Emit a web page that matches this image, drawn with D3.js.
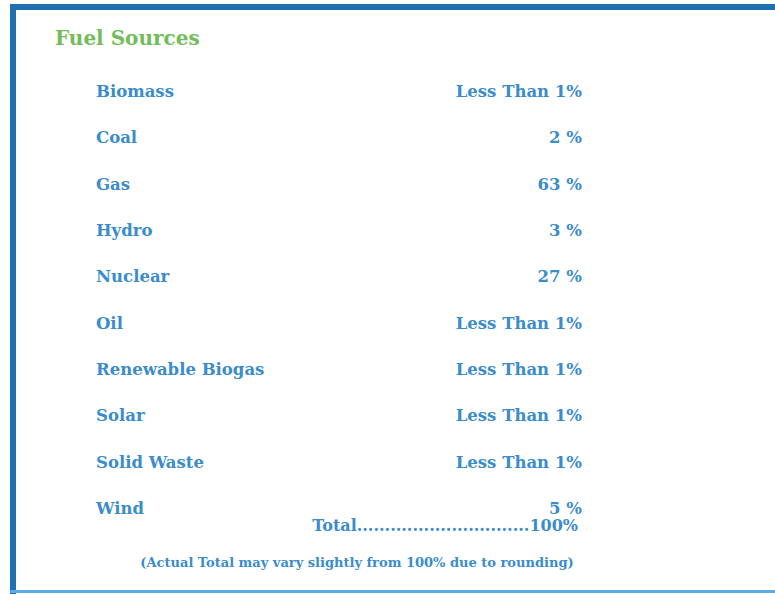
<!DOCTYPE html>
<html>
<head>
<meta charset="utf-8">
<script src="https://cdn.jsdelivr.net/npm/d3@7"></script>
<style>
  html, body { margin: 0; padding: 0; background: #fff; }
  svg text { font-family: "DejaVu Serif", "Liberation Serif", serif; font-weight: bold; }
</style>
</head>
<body>
<div id="chart"></div>
<script>
// --- Data ---
const title = "Fuel Sources";
const fuels = ["Biomass", "Coal", "Gas", "Hydro", "Nuclear", "Oil",
  "Renewable Biogas", "Solar", "Solid Waste", "Wind"];
const shares = ["Less Than 1%", "2 %", "63 %", "3 %", "27 %", "Less Than 1%",
  "Less Than 1%", "Less Than 1%", "Less Than 1%", "5 %"];
const totalLabel = "Total...............................100%";
const footnote = "(Actual Total may vary slightly from 100% due to rounding)";

// --- Setup ---
const width = 775, height = 594;
const blue = "#3a8ccb", green = "#72bd5a";

const svg = d3.select("#chart").append("svg")
  .attr("width", width)
  .attr("height", height);

svg.append("rect").attr("width", width).attr("height", height).attr("fill", "#fff");

// frame: thick dark top and left, thin light bottom
svg.append("rect").attr("x", 10).attr("y", 4).attr("width", width - 10).attr("height", 6).attr("fill", "#1f70b0");
svg.append("rect").attr("x", 10).attr("y", 4).attr("width", 6).attr("height", height - 4).attr("fill", "#1f70b0");
svg.append("rect").attr("x", 10).attr("y", 590).attr("width", width - 10).attr("height", 3).attr("fill", "#5aaee6");

svg.append("text")
  .attr("x", 55).attr("y", 45)
  .attr("fill", green)
  .attr("font-size", 20)
  .text(title);

const y = d3.scaleBand()
  .domain(fuels)
  .range([68, 531])
  .paddingInner(0);

const rows = svg.append("g").selectAll("g")
  .data(fuels)
  .join("g")
  .attr("transform", d => `translate(0,${y(d) + y.bandwidth() / 2 + 6})`);

rows.append("text")
  .attr("x", 96)
  .attr("fill", blue)
  .attr("font-size", 16.5)
  .text(d => d);

rows.append("text")
  .attr("x", 582)
  .attr("text-anchor", "end")
  .attr("fill", blue)
  .attr("font-size", 16.5)
  .text((d, i) => shares[i]);

svg.append("text")
  .attr("x", 578).attr("y", 531)
  .attr("text-anchor", "end")
  .attr("fill", blue)
  .attr("font-size", 16)
  .text(totalLabel);

svg.append("text")
  .attr("x", 357).attr("y", 567)
  .attr("text-anchor", "middle")
  .attr("fill", blue)
  .attr("font-size", 13)
  .text(footnote);
</script>
</body>
</html>
